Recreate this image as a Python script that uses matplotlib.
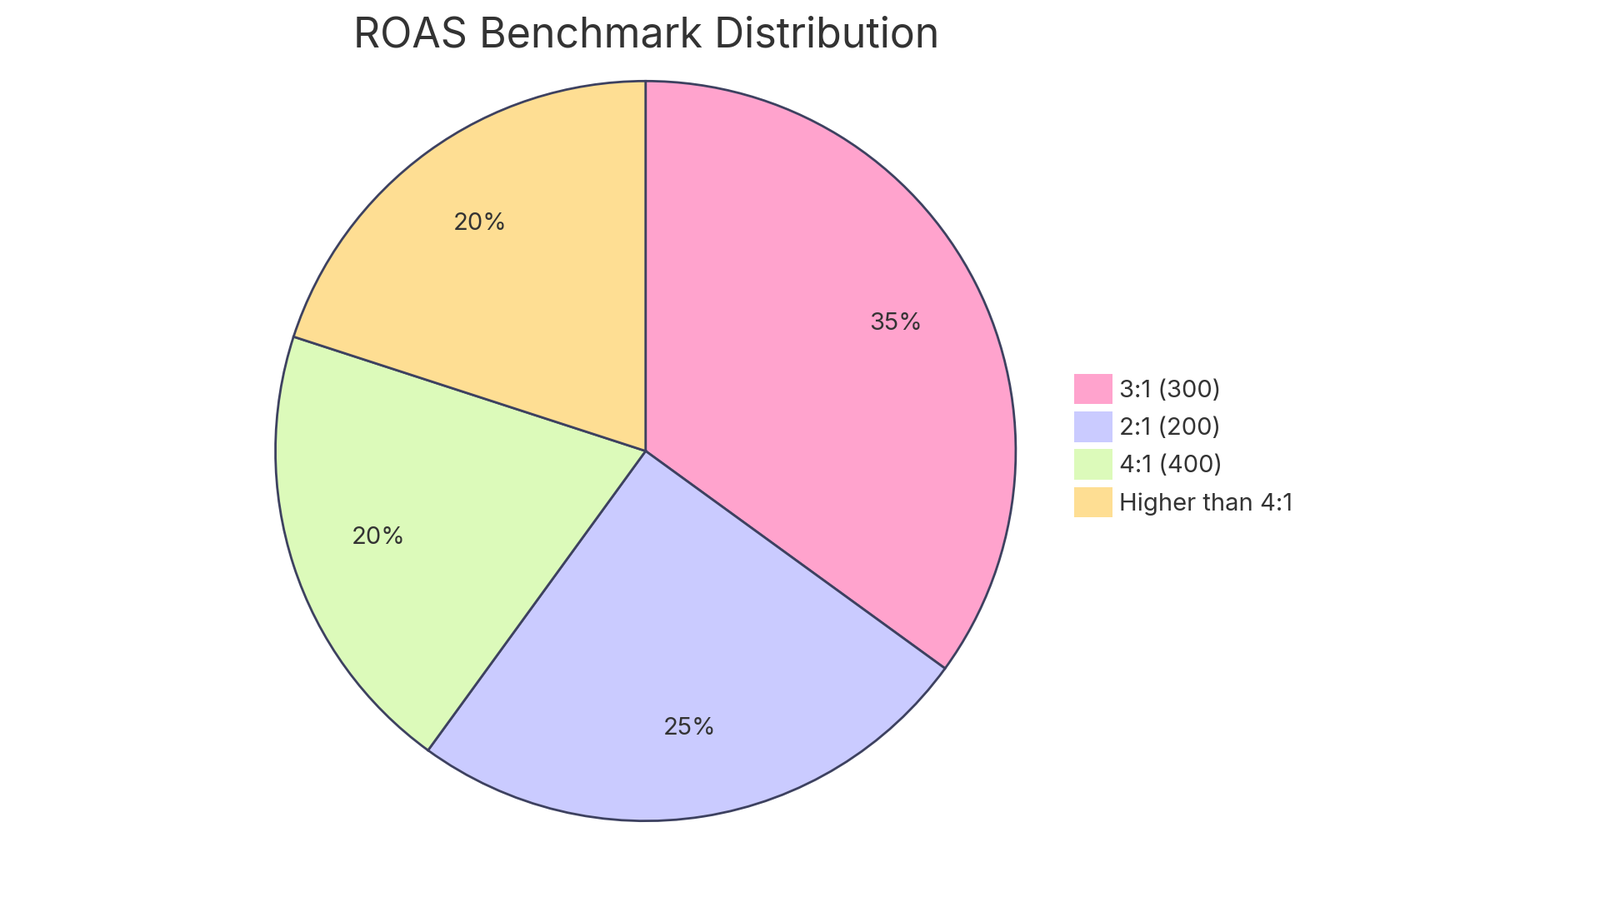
import matplotlib.pyplot as plt
from matplotlib.patches import Patch

# --- dados do gráfico ---
labels = ["3:1 (300)", "2:1 (200)", "4:1 (400)", "Higher than 4:1"]
values = [35, 25, 20, 20]
colors = ["#FFA3CD", "#CACBFF", "#DCFABA", "#FEDE93"]
edge = "#3D4160"

plt.rcParams["font.family"] = "Inter"
fig = plt.figure(figsize=(19.2, 10.83), dpi=100)
ax = fig.add_axes([0.171, 0.0875, 0.465, 0.825])

wedges, _, autotexts = ax.pie(
    values, colors=colors, startangle=90, counterclock=False,
    autopct="%1.0f%%", pctdistance=0.76,
    wedgeprops=dict(edgecolor=edge, linewidth=2),
    textprops=dict(fontsize=21, color="#333333"),
)
ax.set_xlim(-1.005, 1.005)
ax.set_ylim(-1.005, 1.005)
ax.set_aspect("equal")

fig.text(0.404, 0.96, "ROAS Benchmark Distribution", ha="center", va="center",
         fontsize=36, color="#333333")

handles = [Patch(facecolor=c, edgecolor="none") for c in colors]
fig.legend(handles, labels, loc="center left", bbox_to_anchor=(0.664, 0.506),
           frameon=False, fontsize=21, handlelength=1.55, handleheight=1.55,
           handletextpad=0.3, labelspacing=0.3, borderpad=0, labelcolor="#333333")

fig.savefig("out.png", dpi=100, facecolor="white")
